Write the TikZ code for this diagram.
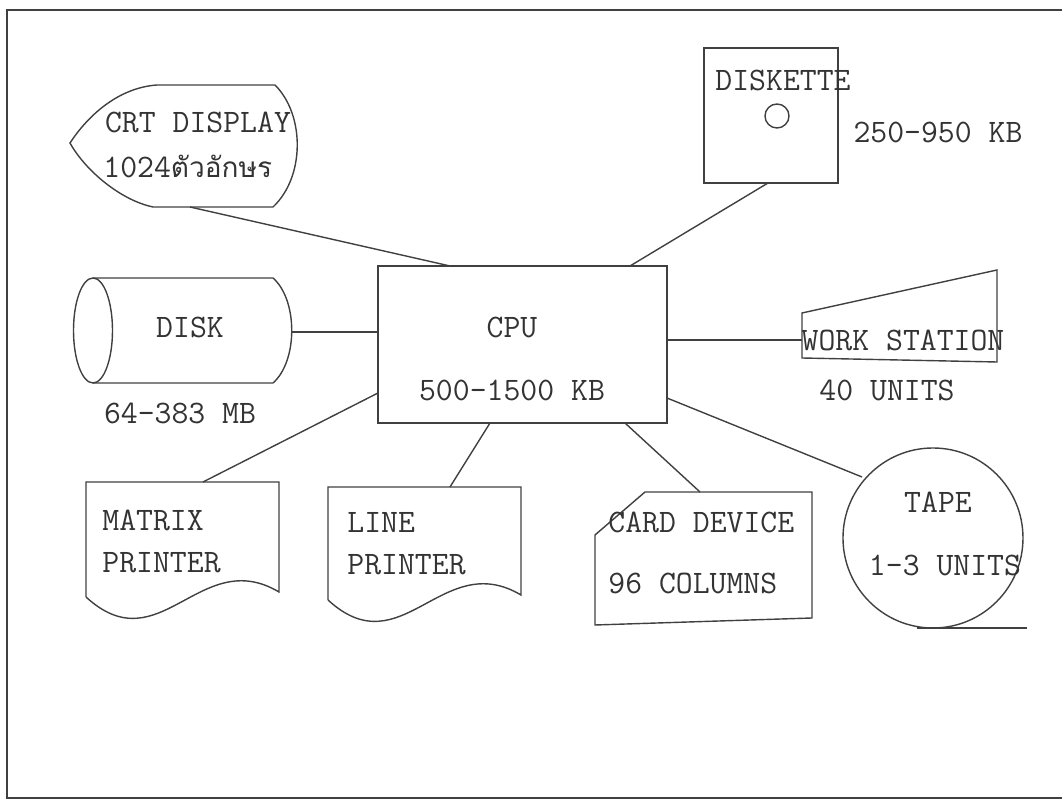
\documentclass[tikz,border=0pt]{standalone}
\usepackage{fontspec}
\newfontfamily\thaifont[Script=Thai]{Loma}
\usepackage{tikz}
\usetikzlibrary{positioning}

\begin{document}
\begin{tikzpicture}[
  x=0.5pt, y=-0.5pt,
  txt/.style={font=\ttfamily\fontsize{16.4}{19}\selectfont, text=black!80, inner sep=0pt},
  unit/.style={draw=black!75, line width=0.7pt},
  box/.style={unit, rectangle, outer sep=0pt, inner sep=0pt},
  link/.style={draw=black!75, line width=0.7pt}
]
  \useasboundingbox (0,0) rectangle (1062,806);
  \draw[unit] (1062,10) -- (7,10) -- (7,798) -- (1062,798);

  % central unit
  \node[box, minimum width=144.5pt, minimum height=78.5pt] (cpu) at (522.5,344.5) {};
  \node[txt] (cpulbl) at (512,327) {CPU};
  \node[txt] (cpumem) at (512,390) {500-1500 KB};

  % display
  \draw[unit] (157,85) -- (275,85) .. controls (305,115) and (305,177) .. (273,207)
    -- (153,207) .. controls (120,200) and (85,170) .. (70,143)
    .. controls (85,120) and (115,88) .. (157,85) -- cycle;
  \node[txt] (crtlbl) at (198,122) {CRT DISPLAY};
  \node[txt, anchor=west] (crtchr) at (103,167) {1024{\thaifont\fontsize{14}{17}\selectfont ตัวอักษร}};

  % diskette
  \node[box, minimum width=67pt, minimum height=67.5pt] (dskt) at (771,115.5) {};
  \node[unit, circle, minimum size=12pt, inner sep=0pt] (hole) at (777,116) {};
  \node[txt] (dsktlbl) at (783,80) {DISKETTE};
  \node[txt] (dsktcap) at (938,132) {250-950 KB};

  % disk
  \draw[unit] (93,278) -- (273,278) .. controls (298,300) and (298,361) .. (273,383) -- (93,383);
  \draw[unit] (93,330.5) ellipse [x radius=19.5, y radius=52.5];
  \node[txt] (disklbl) at (190,327) {DISK};
  \node[txt] (diskcap) at (180,413) {64-383 MB};

  % work station
  \draw[unit] (802,313) -- (997,270) -- (997,362) -- (802,358) -- cycle;
  \node[txt] (wslbl) at (903,340) {WORK STATION};
  \node[txt] (wscap) at (887,390) {40 UNITS};

  % printers
  \draw[unit] (86,597) -- (86,482) -- (279,482) -- (279,592)
    .. controls (200,545) and (160,665) .. (86,597);
  \node[txt, anchor=west] (mpr1) at (102,520) {MATRIX};
  \node[txt, anchor=west] (mpr2) at (102,563) {PRINTER};
  \draw[unit] (328,600) -- (328,487) -- (521,487) -- (521,595)
    .. controls (442,548) and (402,668) .. (328,600);
  \node[txt, anchor=west] (lpr1) at (347,522) {LINE};
  \node[txt, anchor=west] (lpr2) at (347,565) {PRINTER};

  % card device
  \draw[unit] (645,492) -- (812,492) -- (812,618) -- (595,625) -- (595,535) -- cycle;
  \node[txt, anchor=west] (card1) at (608,522) {CARD DEVICE};
  \node[txt, anchor=west] (card2) at (608,583) {96 COLUMNS};

  % tape
  \node[unit, circle, minimum size=90pt, inner sep=0pt] (tape) at (933,538) {};
  \node[txt] (tapelbl) at (938,502) {TAPE};
  \node[txt] (tapecap) at (945,565) {1-3 UNITS};
  \coordinate (tapeend) at (1027,628);
  \draw[unit] (917,628) -- (tapeend);

  % attach points
  \coordinate (crt-s) at (190,207);
  \coordinate (dskt-s) at (768,183);
  \coordinate (disk-e) at (292,332);
  \coordinate (ws-w) at (802,340);
  \coordinate (mpr-n) at (203,482);
  \coordinate (lpr-n) at (450,487);
  \coordinate (card-n) at (700,492);
  \coordinate (tape-nw) at (862,477);
  \coordinate (cpu-n1) at (450,266);
  \coordinate (cpu-n2) at (630,266);
  \coordinate (cpu-w1) at (378,332);
  \coordinate (cpu-w2) at (378,393);
  \coordinate (cpu-e1) at (667,340);
  \coordinate (cpu-e2) at (667,398);
  \coordinate (cpu-s1) at (490,423);
  \coordinate (cpu-s2) at (625,423);

  \draw[link] (crt-s) -- (cpu-n1);
  \draw[link] (dskt-s) -- (cpu-n2);
  \draw[link] (disk-e) -- (cpu-w1);
  \draw[link] (cpu-e1) -- (ws-w);
  \draw[link] (cpu-w2) -- (mpr-n);
  \draw[link] (cpu-s1) -- (lpr-n);
  \draw[link] (cpu-s2) -- (card-n);
  \draw[link] (cpu-e2) -- (tape-nw);
\end{tikzpicture}
\end{document}
